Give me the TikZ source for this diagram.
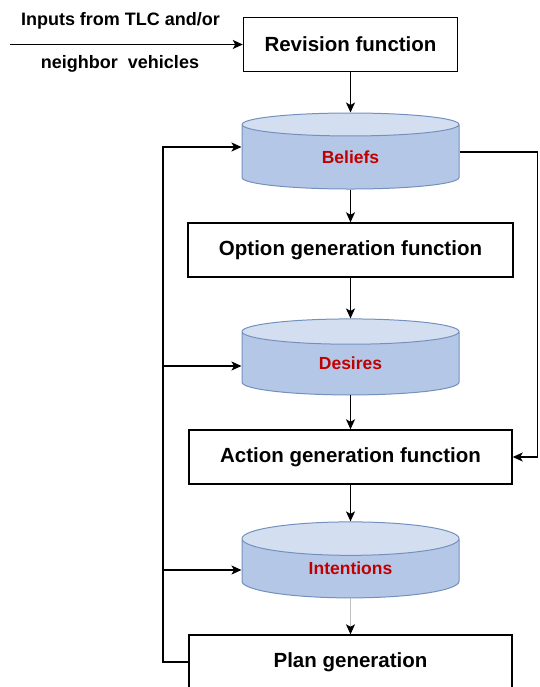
\documentclass[tikz,border=0pt]{standalone}
\usepackage{fontspec}
\setmainfont{Liberation Sans}
\usetikzlibrary{arrows.meta, positioning, shapes.geometric}
\definecolor{dbfill}{HTML}{B4C7E7}
\definecolor{dbtop}{HTML}{D3DFF1}
\definecolor{dbline}{HTML}{7391BD}
\definecolor{dbtext}{HTML}{C00000}

\tikzset{
  func/.style={draw, line width=1.4pt, minimum height=54pt, inner sep=0pt,
    font=\fontsize{20.5}{24}\selectfont\bfseries},
  store/.style={cylinder, shape border rotate=90, aspect=0.4, draw=dbline, line width=1pt,
    cylinder uses custom fill, cylinder body fill=dbfill, cylinder end fill=dbtop,
    minimum width=217pt, minimum height=76pt, inner sep=0pt, text=dbtext,
    font=\fontsize{17.5}{21}\selectfont\bfseries},
  flow/.style={line width=1.3pt, -{Stealth[length=10pt,width=9pt,inset=2.5pt]}},
}

\begin{document}
\begin{tikzpicture}[x=1pt, y=-1pt]
\useasboundingbox (0,0) rectangle (539,687);
% The stores and the functions between them
\node[func, minimum width=214pt] (rev) at (350.5,44.5) {Revision function};
\node[store] (beliefs) at (350.5,157) {Beliefs};
\node[func, minimum width=325pt] (option) at (350.5,250) {Option generation function};
\node[store] (desires) at (350.5,363.5) {Desires};
\node[func, minimum width=323pt] (action) at (350.5,457) {Action generation function};
\node[store] (intentions) at (350.5,568.5) {Intentions};
\node[func, minimum width=323pt] (plan) at (350.5,662) {Plan generation};
% The inputs
\node[font=\fontsize{18}{21}\selectfont\bfseries] (intxt1) at (120.5,21) {Inputs from TLC and/or};
\node[font=\fontsize{18}{21}\selectfont\bfseries] (intxt2) at (120,64) {neighbor\ \ vehicles};
\coordinate (in) at (10,44.5);
\draw[flow] (in) -- (rev.west);
% The main chain
\draw[flow] (rev) -- (beliefs);
\draw[flow] (beliefs.south) -- (option.north);
\draw[flow] (option) -- (desires);
\draw[flow] (desires.south) -- (action.north);
\draw[flow] (action) -- (intentions);
\draw[gray!50, line width=0.8pt, -{Stealth[black,length=10pt,width=9pt,inset=2.5pt]}] (intentions.south) -- (plan.north);
% Beliefs straight into the action function
\coordinate (rc) at (537.5,300);
\coordinate (bOut) at ([yshift=5pt]beliefs.east);
\draw[flow] (bOut) -| (rc) |- (action.east);
% Feedback from the plan
\coordinate (lc) at (163,400);
\coordinate (bIn) at ([yshift=10pt]beliefs.west);
\coordinate (dIn) at ([yshift=-2.5pt]desires.west);
\coordinate (iIn) at ([yshift=-1.5pt]intentions.west);
\draw[flow] (plan.west) -| (lc) |- (bIn);
\draw[flow] (lc |- dIn) -- (dIn);
\draw[flow] (lc |- iIn) -- (iIn);
\end{tikzpicture}
\end{document}
